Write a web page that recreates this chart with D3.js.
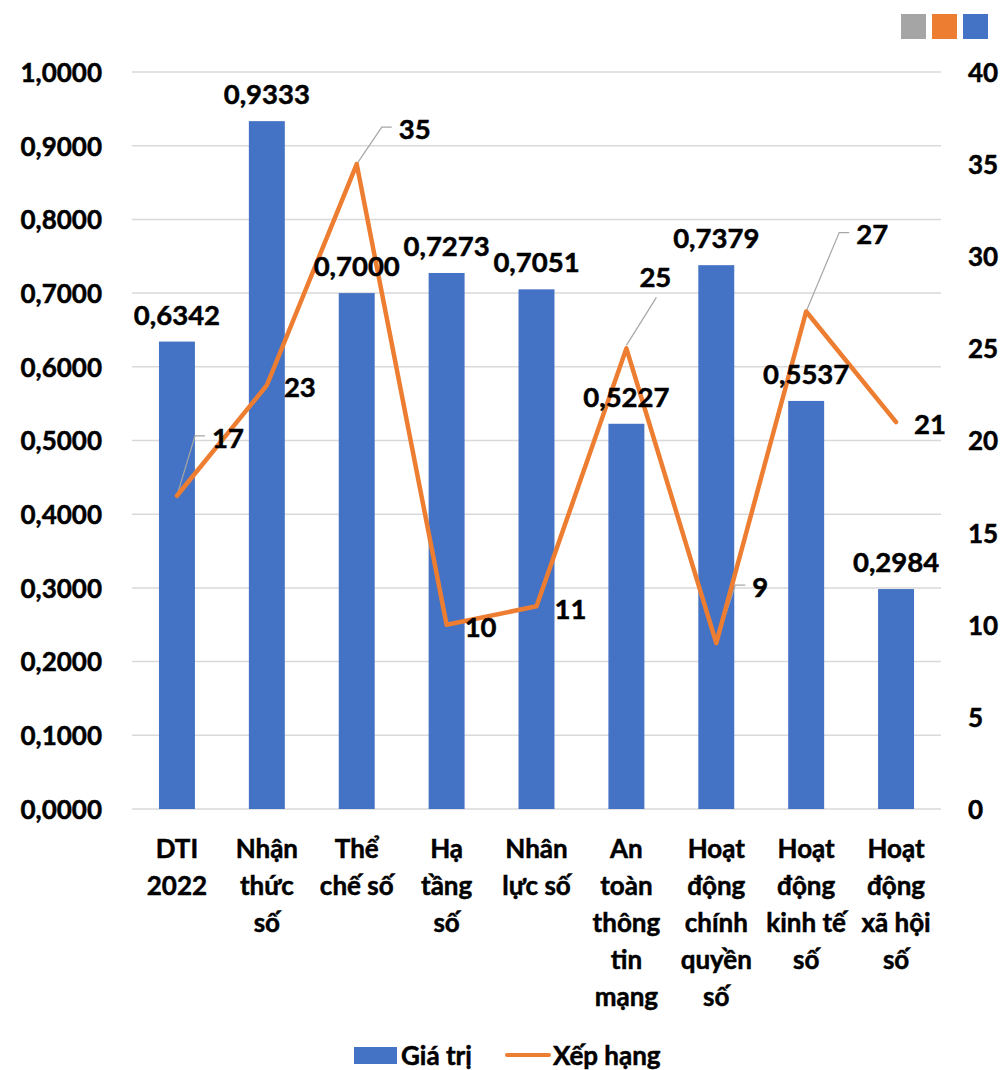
<!DOCTYPE html>
<html><head><meta charset="utf-8">
<script src="https://cdn.jsdelivr.net/npm/d3@7"></script>
<style>
html,body{margin:0;padding:0;background:#fff;}
text{font-family:Lato,"Open Sans",sans-serif;font-weight:700;fill:#000;stroke:#000;stroke-width:0.5px;}
</style></head>
<body>
<svg id="c" width="1003" height="1070"></svg>
<script>
const categories = ["DTI\n2022","Nhận\nthức\nsố","Thể\nchế số","Hạ\ntầng\nsố","Nhân\nlực số","An\ntoàn\nthông\ntin\nmạng","Hoạt\nđộng\nchính\nquyền\nsố","Hoạt\nđộng\nkinh tế\nsố","Hoạt\nđộng\nxã hội\nsố"];
const giaTri = [0.6342,0.9333,0.7000,0.7273,0.7051,0.5227,0.7379,0.5537,0.2984];
const xepHang = [17,23,35,10,11,25,9,27,21];
const leftTicks = [0,0.1,0.2,0.3,0.4,0.5,0.6,0.7,0.8,0.9,1.0];
const rightTicks = [0,5,10,15,20,25,30,35,40];
const seriesNames = ["Giá trị","Xếp hạng"];
// label layout for rank labels (offset of label centre from point, leader style)
const rankLabelLayout = [
  {dx:51,dy:-58,leader:"left"},{dx:33,dy:2,leader:null},{dx:58,dy:-35,leader:"left"},
  {dx:34,dy:2,leader:null},{dx:34,dy:3,leader:null},{dx:29,dy:-71,leader:"bottom"},
  {dx:44,dy:-56,leader:"left"},{dx:66,dy:-77,leader:"left"},{dx:34,dy:2,leader:null}
];

const blue="#4472C4", orange="#ED7D31", gray="#A5A5A5", grid="#D9D9D9";
const fs=26, fsData=27.5;
const svg=d3.select("#c");
const L=132,R=941,T=72,B=809;
const x=d3.scaleBand().domain(categories).range([L,R]).paddingInner(0.6).paddingOuter(0.3);
const yL=d3.scaleLinear().domain([0,1]).range([B,T]);
const yR=d3.scaleLinear().domain([0,40]).range([B,T]);
const fmt=v=>v.toFixed(4).replace(".",",");

// top-right colour squares
[gray,orange,blue].forEach((c,i)=>svg.append("rect").attr("x",901+i*31).attr("y",14).attr("width",25).attr("height",25).attr("fill",c));

// gridlines
svg.append("g").selectAll("line").data(leftTicks).join("line")
  .attr("x1",L).attr("x2",R).attr("y1",d=>yL(d)).attr("y2",d=>yL(d))
  .attr("stroke",grid).attr("stroke-width",1.5);

function styleAxis(g){
  g.select(".domain").remove();
  g.selectAll("text").attr("font-size",fs).attr("dy","0.36em")
    .style("font-family","Lato").style("font-weight",700).attr("fill","#000")
    .style("stroke","#000").style("stroke-width","0.5px");
}
// left axis
const gL=svg.append("g").attr("transform",`translate(102,0)`)
  .call(d3.axisLeft(yL).tickValues(leftTicks).tickFormat(fmt).tickSize(0).tickPadding(0));
styleAxis(gL);
// right axis
const gR=svg.append("g").attr("transform",`translate(968,0)`)
  .call(d3.axisRight(yR).tickValues(rightTicks).tickFormat(d=>d).tickSize(0).tickPadding(0));
styleAxis(gR);

// bars
svg.append("g").selectAll("rect").data(giaTri).join("rect")
  .attr("x",(d,i)=>x(categories[i])).attr("width",x.bandwidth())
  .attr("y",d=>yL(d)).attr("height",d=>B-yL(d)).attr("fill",blue);

const cx=i=>x(categories[i])+x.bandwidth()/2;
const gLead=svg.append("g");

// line
svg.append("path").datum(xepHang)
  .attr("d",d3.line().x((d,i)=>cx(i)).y(d=>yR(d)))
  .attr("fill","none").attr("stroke",orange).attr("stroke-width",4.5).attr("stroke-linejoin","round").attr("stroke-linecap","round");

// bar labels
svg.append("g").selectAll("text").data(giaTri).join("text")
  .attr("x",(d,i)=>cx(i)).attr("y",d=>yL(d)-17).attr("text-anchor","middle").attr("font-size",fsData).text(fmt);

// rank labels + leaders
const gRank=svg.append("g");
xepHang.forEach((v,i)=>{
  const px=cx(i), py=yR(v), lay=rankLabelLayout[i];
  const lx=px+lay.dx, ly=py+lay.dy;
  const t=gRank.append("text").attr("x",lx).attr("y",ly).attr("dy","0.36em").attr("text-anchor","middle").attr("font-size",fsData).text(v);
  const w=t.node().getComputedTextLength();
  if(lay.leader==="left"){
    const left=lx-w/2;
    gLead.append("polyline").attr("points",`${px},${py} ${left-17},${ly-2} ${left-7},${ly-2}`)
      .attr("fill","none").attr("stroke","#A6A6A6").attr("stroke-width",1.2);
  } else if(lay.leader==="bottom"){
    gLead.append("line").attr("x1",px).attr("y1",py-3).attr("x2",lx+1).attr("y2",ly+20)
      .attr("stroke","#A6A6A6").attr("stroke-width",1.2);
  }
});

// category labels
const gC=svg.append("g");
categories.forEach((c,i)=>{
  const lines=c.split("\n");
  const t=gC.append("text").attr("text-anchor","middle").attr("font-size",fs);
  lines.forEach((ln,j)=>t.append("tspan").attr("x",cx(i)).attr("y",858+j*37).text(ln));
});

// legend
svg.append("rect").attr("x",354).attr("y",1047).attr("width",43).attr("height",17).attr("fill",blue);
svg.append("text").attr("x",401).attr("y",1065).attr("font-size",fs).text(seriesNames[0]);
svg.append("line").attr("x1",507).attr("x2",549).attr("y1",1055).attr("y2",1055).attr("stroke",orange).attr("stroke-width",4).attr("stroke-linecap","round");
svg.append("text").attr("x",553).attr("y",1065).attr("font-size",fs).text(seriesNames[1]);
</script>
</body></html>
